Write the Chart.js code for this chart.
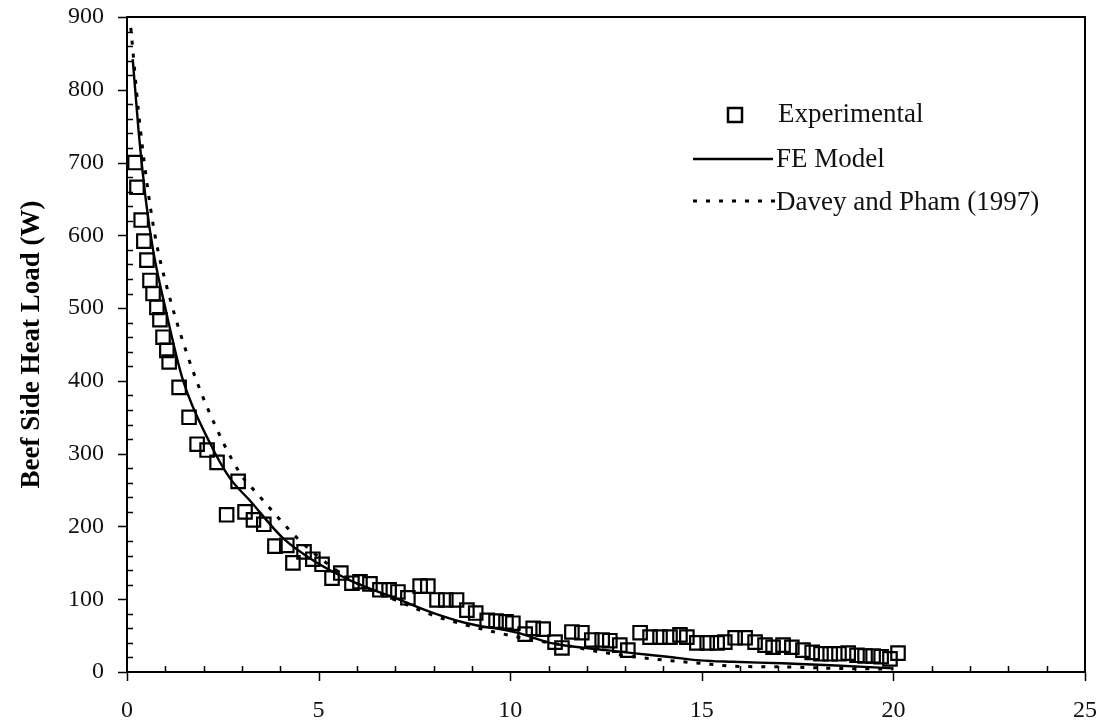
<!DOCTYPE html>
<html>
<head>
<meta charset="utf-8">
<script src="https://cdn.jsdelivr.net/npm/chart.js@4/dist/chart.umd.min.js"></script>
<style>
  html, body { margin: 0; padding: 0; background: #fff; }
  canvas { display: block; }
</style>
</head>
<body>
<canvas id="heatChart" width="1110" height="725"></canvas>
<script>
// --------- Data --------------------------------
const expX = [0.21, 0.26, 0.37, 0.44, 0.52, 0.6, 0.68, 0.78, 0.86, 0.94, 1.04, 1.1, 1.36, 1.62, 1.83, 2.09, 2.35, 2.6, 2.9,
  3.08, 3.3, 3.57, 3.86, 4.17, 4.33, 4.62, 4.85, 5.09, 5.35, 5.58, 5.87, 6.08, 6.34, 6.6, 6.84, 7.07, 7.33, 7.65, 7.85,
  8.09, 8.32, 8.6, 8.87, 9.1, 9.4, 9.63, 9.89, 10.07, 10.39, 10.6, 10.86, 11.17, 11.35, 11.61, 11.87, 12.13, 12.4, 12.6,
  12.86, 13.07, 13.39, 13.65, 13.91, 14.17, 14.43, 14.61, 14.87, 15.14, 15.4, 15.6, 15.87, 16.13, 16.39, 16.65, 16.86,
  17.12, 17.35, 17.64, 17.88, 18.11, 18.35, 18.58, 18.82, 19.05, 19.26, 19.47, 19.68, 19.91, 20.12];
const expY = [700, 666, 621, 592, 566, 538, 520, 501, 484, 460, 442, 426, 391, 350, 313, 305, 288, 216, 262,
  220, 209, 203, 173, 174, 150, 165, 155, 148, 129, 136, 122, 124, 121, 113, 113, 110, 102, 118, 118,
  99, 99, 99, 85, 81, 71, 70, 69, 67, 52, 60, 59, 41, 33, 55, 54, 44, 44, 43,
  37, 30, 54, 48, 48, 48, 51, 48, 40, 40, 40, 41, 47, 47, 41, 37, 34,
  37, 34, 30, 27, 25, 25, 25, 26, 23, 22, 22, 21, 18, 26];

const feX = [0.15, 0.3, 0.5, 0.68, 1.0, 1.46, 2.17, 2.69, 3.2, 4.07, 4.96, 5.82, 7.12, 8.0, 8.87, 10.18, 11.04, 11.5,
  12.5, 13.2, 14.1, 14.95, 15.8, 17.1, 18.5, 20];
const feY = [842, 745, 645, 580, 500, 401, 314, 266, 236, 184, 150, 126, 99, 81, 67, 54, 40, 36,
  30, 26, 21, 16, 14, 12, 9, 5];

const dpX = [0.1, 0.3, 0.5, 0.73, 1.04, 1.56, 2.09, 2.95, 3.4, 4.5, 5.2, 6.0, 7.0, 8.09, 8.4, 9.5, 10.5, 11.5,
  12.3, 13.2, 14.1, 14.95, 15.8, 17.1, 18.5, 20];
const dpY = [885, 770, 680, 600, 529, 438, 364, 273, 245, 181, 150, 122, 99, 76, 71, 56, 45, 36,
  28, 21, 16, 12, 8, 7, 5, 4];

const xTicks = [0, 5, 10, 15, 20, 25];
const yTicks = [0, 100, 200, 300, 400, 500, 600, 700, 800, 900];

const seriesNames = ["Experimental", "FE Model", "Davey and Pham (1997)"];

const toPoints = (xs, ys) => xs.map((v, i) => ({ x: v, y: ys[i] }));

const serif = "'Liberation Serif', 'Times New Roman', serif";

// stop tick labels from pushing the plot area in
function noMargins(s) {
  s.paddingTop = 0;
  s.paddingBottom = 0;
  s.paddingLeft = 0;
  s.paddingRight = 0;
}

// --------- Frame, ticks and legend ----------
const framePlugin = {
  id: "frame",
  afterDraw(chart) {
    const ctx = chart.ctx;
    const a = chart.chartArea;
    const xs = chart.scales.x;
    const ys = chart.scales.y;
    ctx.save();
    ctx.strokeStyle = "#000";
    ctx.lineWidth = 2;
    ctx.strokeRect(a.left, a.top, a.right - a.left, a.bottom - a.top);

    ctx.lineWidth = 1.5;
    ctx.beginPath();
    // x: minor ticks inside, major outside
    for (let v = 0; v <= 25; v++) {
      const px = Math.round(xs.getPixelForValue(v)) + 0.5;
      if (v % 5 === 0) {
        ctx.moveTo(px, a.bottom);
        ctx.lineTo(px, a.bottom + 9);
      } else {
        ctx.moveTo(px, a.bottom);
        ctx.lineTo(px, a.bottom - 6);
      }
    }
    // y: minor every 20 inside, major outside
    for (let v = 0; v <= 900; v += 20) {
      const py = Math.round(ys.getPixelForValue(v)) + 0.5;
      if (v % 100 === 0) {
        ctx.moveTo(a.left - 9, py);
        ctx.lineTo(a.left, py);
      } else {
        ctx.moveTo(a.left, py);
        ctx.lineTo(a.left + 6, py);
      }
    }
    ctx.stroke();

    // legend
    const ds = chart.data.datasets;
    ctx.font = "27px " + serif;
    ctx.fillStyle = "#111";
    ctx.textBaseline = "middle";
    ctx.textAlign = "left";

    ctx.lineWidth = 2.5;
    ctx.strokeRect(728, 108, 14, 14);
    ctx.fillText(ds[0].label, 778, 115);

    ctx.lineWidth = 2.5;
    ctx.setLineDash([]);
    ctx.beginPath();
    ctx.moveTo(693, 159);
    ctx.lineTo(773, 159);
    ctx.stroke();
    ctx.fillText(ds[1].label, 776, 160);

    ctx.lineWidth = 3;
    ctx.setLineDash(ds[2].borderDash);
    ctx.beginPath();
    ctx.moveTo(693, 201);
    ctx.lineTo(775, 201);
    ctx.stroke();
    ctx.setLineDash([]);
    ctx.fillText(ds[2].label, 776, 203);
    ctx.restore();
  },
};

new Chart(document.getElementById("heatChart"), {
  type: "scatter",
  data: {
    datasets: [
      {
        label: seriesNames[0],
        data: toPoints(expX, expY),
        pointStyle: "rect",
        pointRadius: 9.5,
        pointBorderWidth: 2.2,
        pointBorderColor: "#000",
        pointBackgroundColor: "rgba(0,0,0,0)",
        showLine: false,
        order: 0,
      },
      {
        label: seriesNames[1],
        data: toPoints(feX, feY),
        showLine: true,
        borderColor: "#000",
        borderWidth: 2.4,
        pointRadius: 0,
        cubicInterpolationMode: "monotone",
        order: 1,
      },
      {
        label: seriesNames[2],
        data: toPoints(dpX, dpY),
        showLine: true,
        borderColor: "#000",
        borderWidth: 3,
        borderDash: [4, 9],
        pointRadius: 0,
        cubicInterpolationMode: "monotone",
        order: 2,
      },
    ],
  },
  options: {
    responsive: false,
    animation: false,
    layout: { padding: { top: 17, right: 25, left: 0, bottom: 0 } },
    plugins: {
      legend: { display: false },
      tooltip: { enabled: false },
    },
    scales: {
      x: {
        type: "linear",
        min: 0,
        max: 25,
        afterBuildTicks: (s) => { s.ticks = xTicks.map((v) => ({ value: v })); },
        afterFit: (s) => { s.height = 53; noMargins(s); },
        grid: { display: false, drawTicks: false },
        border: { display: false },
        ticks: {
          color: "#111",
          padding: 24,
          maxRotation: 0,
          font: { family: serif, size: 24 },
        },
      },
      y: {
        type: "linear",
        min: 0,
        max: 900,
        afterBuildTicks: (s) => { s.ticks = yTicks.map((v) => ({ value: v })); },
        afterFit: (s) => { s.width = 127; noMargins(s); },
        grid: { display: false, drawTicks: false },
        border: { display: false },
        ticks: {
          color: "#111",
          padding: 23,
          font: { family: serif, size: 24 },
        },
        title: {
          display: true,
          text: "Beef Side Heat Load (W)",
          color: "#000",
          padding: { top: 16, bottom: 0 },
          font: { family: serif, size: 27, weight: "bold" },
        },
      },
    },
  },
  plugins: [framePlugin],
});
</script>
</body>
</html>
